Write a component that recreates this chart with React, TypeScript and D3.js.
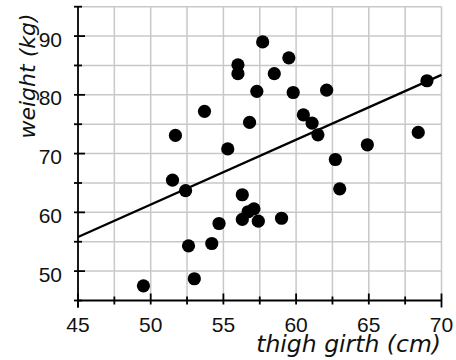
import React from "react";
import * as d3 from "d3";

// Thigh girth (cm) and body weight (kg) for each subject
const girth = [
  49.5, 51.5, 51.7, 52.4, 52.6, 53.0, 53.7, 54.2, 54.7, 55.3,
  56.0, 56.0, 56.3, 56.3, 56.7, 56.8, 57.1, 57.3, 57.4, 57.7,
  58.5, 59.0, 59.5, 59.8, 60.5, 61.1, 61.5, 62.1, 62.7, 63.0,
  64.9, 68.4, 69.0,
];
const weight = [
  47.5, 65.5, 73.1, 63.7, 54.3, 48.7, 77.2, 54.7, 58.1, 70.8,
  85.1, 83.6, 58.8, 63.0, 60.1, 75.3, 60.6, 80.6, 58.5, 89.0,
  83.6, 59.0, 86.3, 80.4, 76.6, 75.2, 73.2, 80.8, 69.0, 64.0,
  71.5, 73.6, 82.4,
];

// Least-squares trend line, given by its ends on the girth axis
const trendX = [45, 70];
const trendY = [55.8, 83.4];

const xTicks = [45, 50, 55, 60, 65, 70];
const yTicks = [50, 60, 70, 80, 90];

const W = 456;
const H = 360;

export default function App() {
  const x = d3.scaleLinear().domain([45, 70]).range([78, 441.5]);
  const y = d3.scaleLinear().domain([45, 95]).range([300.5, 6.7]);

  const xGrid = d3.range(47.5, 70.01, 2.5);
  const yGrid = d3.range(50, 95.01, 5);
  const xMinor = d3.range(47.5, 70, 5);
  const yMinor = d3.range(45, 95.01, 10);

  const line = d3
    .line<number>()
    .x((_, i) => x(trendX[i]))
    .y((d) => y(d));

  const tickFont = "'Liberation Sans', Arial, Helvetica, sans-serif";
  const titleFont = "'DejaVu Sans', Verdana, sans-serif";

  return (
    <svg
      width={W}
      height={H}
      style={{ position: "absolute", left: 0, top: 0, background: "#fff" }}
    >
      {/* grid */}
      <g stroke="#c8c8c8" strokeWidth={1.5}>
        {xGrid.map((v) => (
          <line key={"gx" + v} x1={x(v)} x2={x(v)} y1={y(95)} y2={y(45)} />
        ))}
        {yGrid.map((v) => (
          <line key={"gy" + v} x1={x(45)} x2={x(70)} y1={y(v)} y2={y(v)} />
        ))}
      </g>

      {/* axes */}
      <g stroke="#000" strokeWidth={1.8}>
        <line x1={x(45)} x2={x(45)} y1={y(95)} y2={y(45) + 7} />
        <line x1={x(45)} x2={x(70)} y1={y(45)} y2={y(45)} />
        {xTicks.map((v) => (
          <line
            key={"xt" + v}
            x1={x(v)}
            x2={x(v)}
            y1={y(45) - 7}
            y2={y(45) + (v === 45 || v === 70 ? 7 : 4)}
          />
        ))}
        {xMinor.map((v) => (
          <line key={"xm" + v} x1={x(v)} x2={x(v)} y1={y(45) - 4} y2={y(45) + 4} />
        ))}
        {yTicks.map((v) => (
          <line key={"yt" + v} x1={x(45) - 4} x2={x(45) + 7} y1={y(v)} y2={y(v)} />
        ))}
        {yMinor.map((v) => (
          <line key={"ym" + v} x1={x(45) - 4} x2={x(45) + 4} y1={y(v)} y2={y(v)} />
        ))}
      </g>

      {/* tick labels */}
      <g fontFamily={tickFont} fontSize={21} fill="#111">
        {xTicks.map((v) => (
          <text key={"xl" + v} x={x(v)} y={331.5} textAnchor="middle">
            {v}
          </text>
        ))}
        {yTicks.map((v) => (
          <text key={"yl" + v} x={62} y={y(v) + 10.5} textAnchor="end">
            {v}
          </text>
        ))}
      </g>

      {/* trend line */}
      <path d={line(trendY) || ""} fill="none" stroke="#000" strokeWidth={2.3} />

      {/* points */}
      <g fill="#000">
        {girth.map((g, i) => (
          <circle key={"p" + i} cx={x(g)} cy={y(weight[i])} r={6.6} />
        ))}
      </g>

      {/* axis titles */}
      <text
        x={441}
        y={352}
        textAnchor="end"
        fontFamily={titleFont}
        fontStyle="italic"
        fontSize={23.5}
        fill="#111"
      >
        thigh girth (cm)
      </text>
      <text
        transform="translate(35,76) rotate(-90)"
        textAnchor="middle"
        fontFamily={titleFont}
        fontStyle="italic"
        fontSize={22}
        fill="#111"
      >
        weight (kg)
      </text>
    </svg>
  );
}
